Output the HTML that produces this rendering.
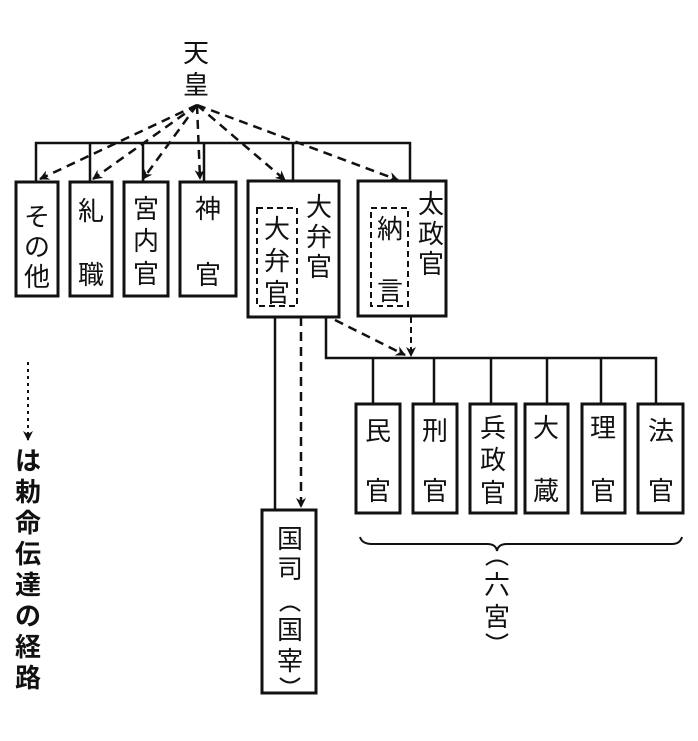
<!DOCTYPE html>
<html><head><meta charset="utf-8"><style>
html,body{margin:0;padding:0;background:#fff;}
svg{display:block}
text{font-family:"Liberation Sans","Noto Sans CJK JP",sans-serif;fill:#111;font-size:26px;text-anchor:middle;}
</style></head><body>
<svg width="698" height="741" viewBox="0 0 698 741" xmlns="http://www.w3.org/2000/svg">
<defs>
<marker id="ah" markerWidth="10" markerHeight="10" refX="9" refY="5" orient="auto" markerUnits="userSpaceOnUse">
<path d="M0,0 L10,5 L0,10 L3,5 Z" fill="#111"/>
</marker>
</defs>
<g stroke="#111" fill="none">
<path d="M36,182 V143 H410 V182" stroke-width="2.5"/>
<path d="M90,143 V182 M143,143 V182 M204,143 V182 M293,143 V182" stroke-width="2.5"/>
<g stroke-width="2.5" stroke-dasharray="9,6" marker-end="url(#ah)">
<line x1="197" y1="105" x2="40" y2="179"/>
<line x1="197" y1="105" x2="93" y2="179"/>
<line x1="197" y1="105" x2="143" y2="179"/>
<line x1="197" y1="105" x2="200" y2="179"/>
<line x1="197" y1="105" x2="285" y2="180"/>
<line x1="197" y1="105" x2="398" y2="180"/>
</g>
<g stroke-width="3">
<rect x="16" y="182" width="42" height="114"/>
<rect x="70" y="182" width="42" height="114"/>
<rect x="124" y="182" width="44" height="114"/>
<rect x="180" y="182" width="56" height="114"/>
<rect x="248" y="181" width="91" height="136"/>
<rect x="358" y="181" width="88" height="135"/>
</g>
<g stroke-width="2" stroke-dasharray="6,4">
<rect x="257" y="208" width="40" height="98"/>
<rect x="371" y="208" width="37" height="98"/>
</g>
<path d="M275,317 V510" stroke-width="2.5"/>
<line x1="301" y1="317" x2="301" y2="507" stroke-width="2.5" stroke-dasharray="9,6" marker-end="url(#ah)"/>
<path d="M326,317 V358 H656 V404" stroke-width="2.5"/>
<line x1="335" y1="320" x2="405" y2="355" stroke-width="2.5" stroke-dasharray="9,6" marker-end="url(#ah)"/>
<line x1="411" y1="317" x2="411" y2="356" stroke-width="2" stroke-dasharray="6,4" marker-end="url(#ah)"/>
<path d="M373,358 V404 M434,358 V404 M491,358 V404 M547,358 V404 M601,358 V404" stroke-width="2.5"/>
<g stroke-width="3">
<rect x="356" y="404" width="44" height="109"/>
<rect x="413" y="404" width="44" height="109"/>
<rect x="470" y="404" width="46" height="109"/>
<rect x="525" y="404" width="43" height="109"/>
<rect x="582" y="404" width="43" height="109"/>
<rect x="638" y="404" width="45" height="109"/>
<rect x="262" y="510" width="54" height="183"/>
</g>
<path d="M360,537 Q362,544 372,544 H487 Q496,544 497,551 Q498,544 507,544 H672 Q680,544 682,537" stroke-width="2"/>
<!-- parentheses arcs -->
<g stroke-width="2">
<path d="M280,611 Q290,602 300,611"/>
<path d="M280,678 Q290,687 300,678"/>
<path d="M486,565 Q497,556 508,565"/>
<path d="M486,634 Q497,643 508,634"/>
</g>
<line x1="28" y1="362" x2="28" y2="440" stroke-width="2" stroke-dasharray="3,4" marker-end="url(#ah)"/>
</g>
<text x="196" y="62" font-size="30">天</text>
<text x="196" y="94" font-size="30">皇</text>
<text x="37" y="226">そ</text><text x="37" y="256">の</text><text x="37" y="286">他</text>
<text x="91" y="220">糺</text><text x="91" y="284">職</text>
<text x="146" y="218">宮</text><text x="146" y="250">内</text><text x="146" y="283">官</text>
<text x="208" y="218">神</text><text x="208" y="284">官</text>
<text x="319" y="216">大</text><text x="319" y="246">弁</text><text x="319" y="276">官</text>
<text x="277" y="238">大</text><text x="277" y="270">弁</text><text x="277" y="302">官</text>
<text x="431" y="213">太</text><text x="431" y="243">政</text><text x="431" y="273">官</text>
<text x="390" y="238">納</text><text x="390" y="300">言</text>
<text x="378" y="440">民</text><text x="378" y="500">官</text>
<text x="435" y="440">刑</text><text x="435" y="500">官</text>
<text x="493" y="437">兵</text><text x="493" y="469">政</text><text x="493" y="502">官</text>
<text x="546" y="437">大</text><text x="546" y="500">蔵</text>
<text x="603" y="437">理</text><text x="603" y="500">官</text>
<text x="661" y="440">法</text><text x="661" y="500">官</text>
<text x="290" y="548">国</text><text x="290" y="578">司</text>
<text x="290" y="639">国</text><text x="290" y="670">宰</text>
<text x="497" y="594">六</text><text x="497" y="626">宮</text>
<g font-weight="bold" font-size="24">
<text x="28" y="470">は</text><text x="28" y="501">勅</text><text x="28" y="532">命</text><text x="28" y="563">伝</text><text x="28" y="594">達</text><text x="28" y="625">の</text><text x="28" y="656">経</text><text x="28" y="687">路</text>
</g>
</svg>
</body></html>
